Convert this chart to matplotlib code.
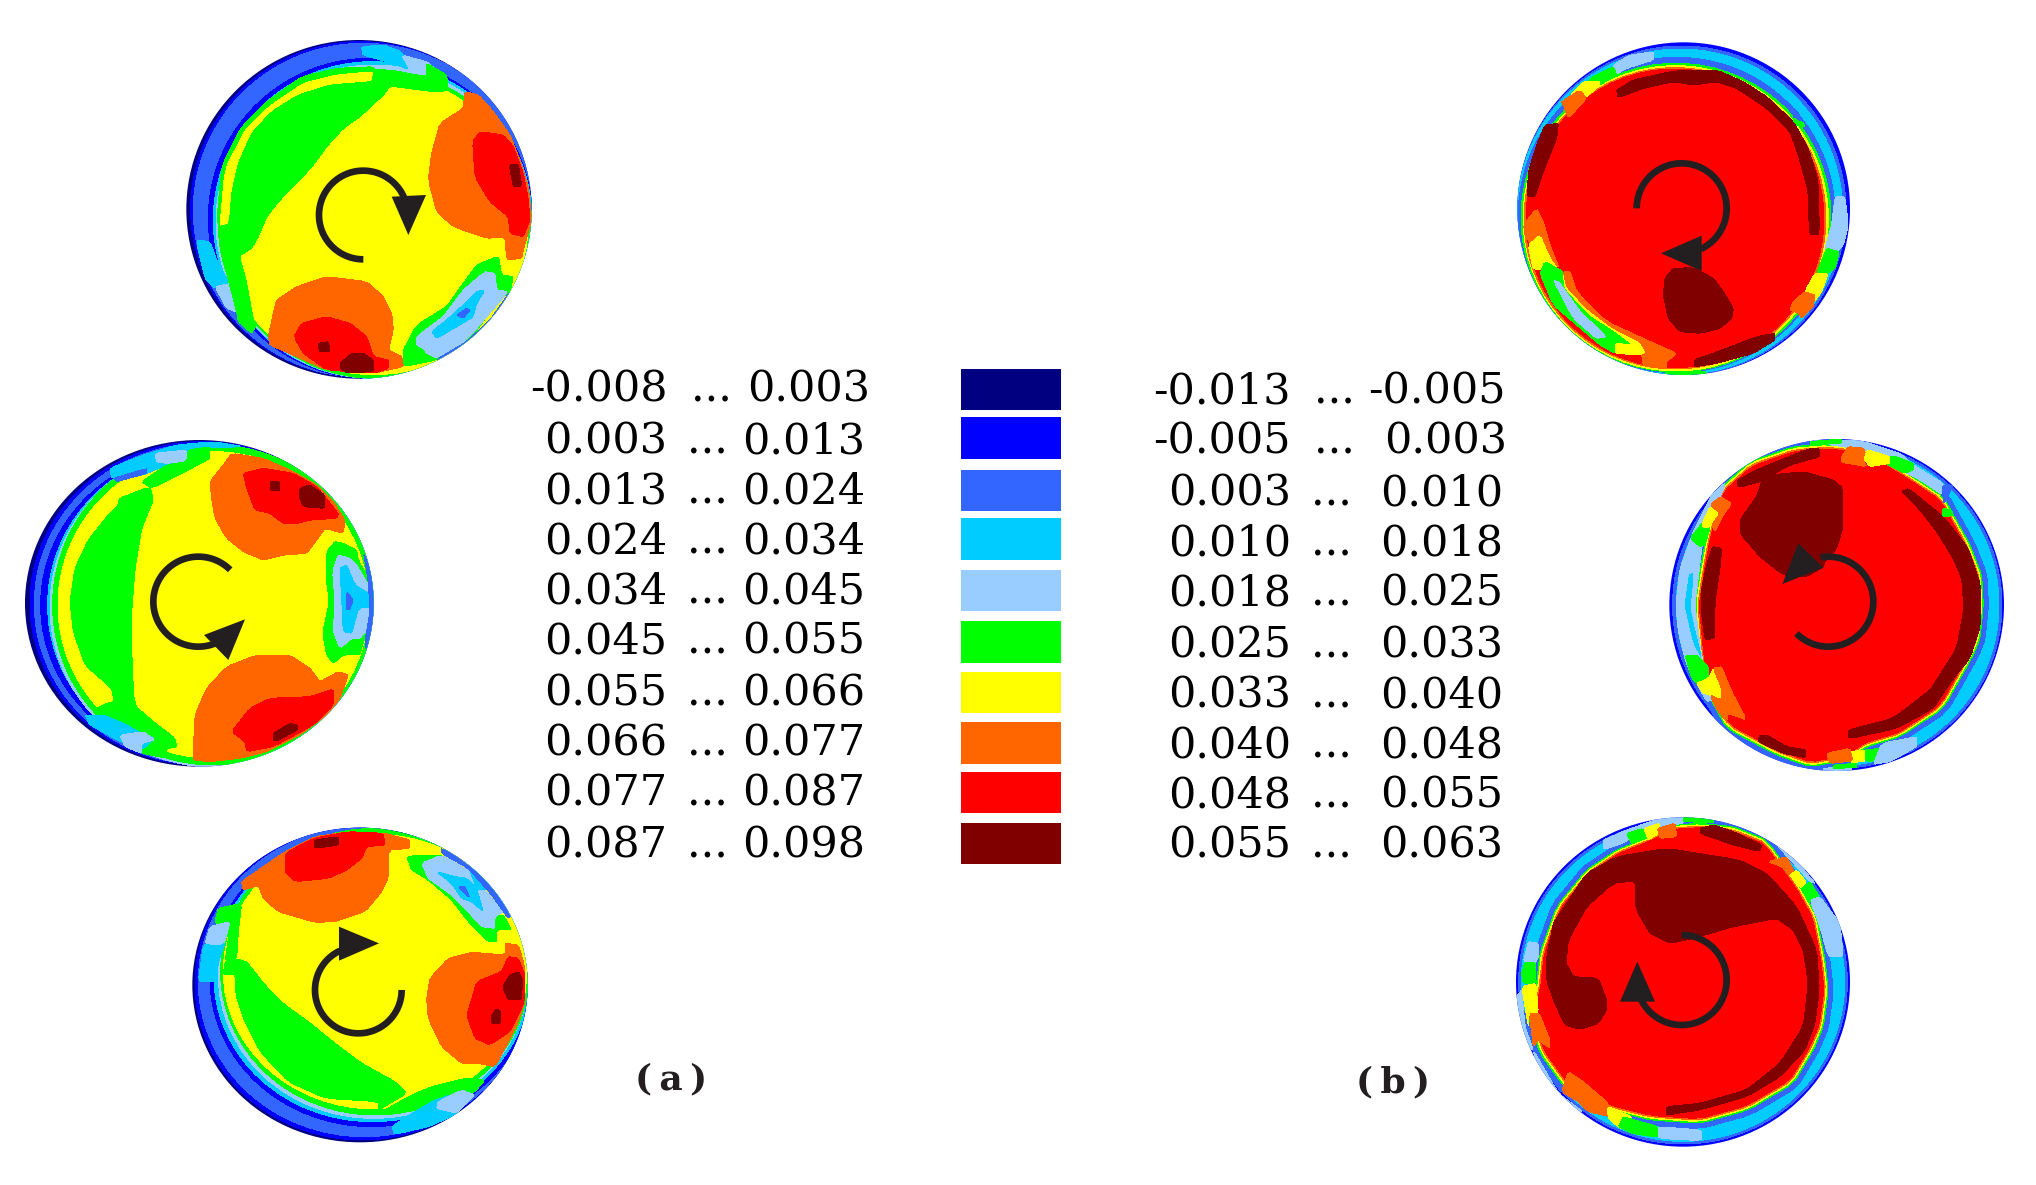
import numpy as np
import matplotlib
matplotlib.use('Agg')
import matplotlib.pyplot as plt
from matplotlib.patches import Ellipse, Polygon, Rectangle

# colour classes of the contour bands, low to high
band_colors = ['#000080', '#0000FF', '#3366FF', '#00CCFF', '#99CCFF',
               '#00FF00', '#FFFF00', '#FF6600', '#FF0000', '#800000']
arrow_color = '#231F20'

# legend values
low_a = ['-0.008', '0.003', '0.013', '0.024', '0.034', '0.045', '0.055', '0.066', '0.077', '0.087']
high_a = ['0.003', '0.013', '0.024', '0.034', '0.045', '0.055', '0.066', '0.077', '0.087', '0.098']
low_b = ['-0.013', '-0.005', '0.003', '0.010', '0.018', '0.025', '0.033', '0.040', '0.048', '0.055']
high_b = ['-0.005', '0.003', '0.010', '0.018', '0.025', '0.033', '0.040', '0.048', '0.055', '0.063']

swatch_top = [369, 417, 470, 518, 570, 621, 672, 722, 772, 823]
swatch_bottom = [410, 459, 511, 560, 611, 663, 713, 764, 813, 864]
row_a = [387, 438, 488, 538, 589, 639, 690, 741, 791, 842]
row_b = [388, 438, 490, 540, 590, 642, 692, 743, 793, 843]

# contour regions, traced from crops at 3x: (band, points)
# rings are (band, cx, cy, rx, ry)
a1_origin = (170, 20)
a1_outer = (567, 568, 518, 508)
a1_rings = [(0, 567, 568, 518, 508), (1, 572, 568, 510, 503), (2, 580, 571, 510, 501),
            (1, 601, 595, 486, 480), (3, 608, 600, 478, 475), (4, 611, 605, 473, 470),
            (5, 615, 612, 470, 463), (6, 612, 612, 462, 452)]
a1_patches = [
    (3, [(575, 80), (640, 75), (695, 95), (722, 150), (650, 125), (578, 105)]),
    (4, [(695, 105), (770, 125), (800, 150), (780, 178), (720, 150)]),
    (3, [(78, 660), (120, 665), (140, 720), (160, 760), (190, 790), (135, 805), (105, 775)]),
    (4, [(135, 800), (185, 790), (222, 840), (222, 885), (170, 865)]),
    (5, [(140, 610), (155, 440), (215, 320), (290, 245), (395, 170), (500, 145), (615, 140), (615, 190),
         (480, 195), (305, 275), (178, 612)]),
    (6, [(150, 615), (165, 450), (225, 330), (300, 258), (400, 190), (500, 165), (608, 155), (608, 186),
         (480, 195), (385, 225), (305, 275), (245, 340), (205, 430), (185, 520), (178, 612)]),
    (5, [(178, 612), (185, 520), (205, 430), (245, 340), (305, 275), (385, 225), (480, 195), (608, 185),
         (610, 155), (660, 150), (770, 170), (770, 130), (830, 165), (835, 212), (790, 215), (660, 198),
         (640, 225), (570, 290), (520, 325), (470, 380), (430, 435), (380, 490), (330, 540), (290, 590),
         (265, 650), (245, 685), (208, 708), (228, 780), (250, 900), (262, 910), (245, 940), (205, 905),
         (200, 875), (175, 780), (150, 680), (148, 620)]),
    (5, [(700, 990), (740, 915), (830, 860), (880, 790), (920, 735), (985, 708), (995, 765), (1030, 770),
         (1020, 815), (985, 840), (900, 960), (800, 1020), (700, 1040)]),
    (4, [(740, 975), (740, 950), (820, 890), (880, 810), (945, 755), (975, 760), (980, 810), (1015, 815),
         (890, 960), (800, 1015), (770, 1000), (760, 985)]),
    (3, [(785, 935), (830, 900), (880, 855), (920, 815), (945, 810), (920, 850), (910, 890), (860, 920),
         (800, 955)]),
    (2, [(860, 885), (890, 865), (900, 870), (880, 895)]),
    (2, [(800, 1018), (890, 965), (960, 900), (1020, 815), (1030, 830), (960, 915), (890, 975), (810, 1030)]),
    (7, [(885, 215), (925, 225), (970, 275), (1020, 345), (1050, 420), (1075, 500), (1085, 600), (1060, 690),
         (1055, 715), (1010, 720), (1005, 650), (950, 655), (850, 620), (800, 575), (775, 480), (785, 400),
         (810, 310), (880, 265)]),
    (8, [(930, 335), (1000, 345), (1030, 380), (1060, 460), (1075, 540), (1080, 600), (1060, 650), (1020, 640),
         (1015, 590), (960, 545), (915, 470), (908, 365)]),
    (9, [(1018, 435), (1045, 432), (1055, 498), (1030, 500)]),
    (7, [(295, 950), (310, 880), (320, 840), (380, 800), (470, 770), (590, 785), (640, 830), (665, 880),
         (670, 930), (655, 990), (695, 1010), (700, 1040), (610, 1060), (470, 1050), (380, 1010), (300, 975)]),
    (8, [(372, 950), (395, 910), (470, 890), (540, 910), (590, 950), (610, 1010), (655, 1020), (655, 1045),
         (610, 1060), (470, 1050), (400, 1000)]),
    (9, [(445, 970), (475, 965), (480, 995), (448, 995)]),
    (9, [(510, 1030), (545, 1000), (580, 1000), (610, 1020), (610, 1055), (530, 1058), (510, 1045)]),
]
a1_arc = (580, 585, 133, 270, 10)
a1_head = [(665, 530), (768, 525), (715, 645)]

a2_origin = (10, 425)
a2_outer = (568, 535, 523, 490)
a2_rings = [(0, 568, 535, 523, 490), (1, 575, 535, 515, 485), (2, 583, 537, 510, 482),
            (1, 595, 540, 503, 470), (3, 605, 540, 492, 472), (4, 610, 545, 490, 481),
            (5, 610, 540, 482, 480), (6, 610, 540, 466, 460)]
a2_patches = [
    (3, [(300, 130), (400, 90), (500, 60), (610, 50), (700, 65), (610, 68), (535, 75), (530, 108), (470, 120),
         (400, 150), (305, 160)]),
    (4, [(435, 85), (530, 75), (530, 108), (470, 115), (440, 110)]),
    (2, [(310, 160), (410, 130), (410, 145), (320, 170)]),
    (5, [(180, 530), (195, 430), (235, 345), (295, 270), (325, 240), (328, 220), (420, 185), (430, 225),
         (395, 310), (375, 430), (362, 600), (372, 840), (430, 890), (495, 940), (500, 965), (470, 972),
         (470, 1000), (395, 985), (340, 930), (260, 850), (290, 835), (312, 830), (305, 790), (225, 720),
         (190, 620)]),
    (5, [(535, 75), (600, 65), (600, 100), (535, 135), (425, 190), (395, 170), (470, 120), (530, 110)]),
    (3, [(225, 870), (280, 870), (340, 895), (395, 925), (435, 940), (395, 975), (330, 950), (240, 900)]),
    (4, [(330, 930), (400, 920), (435, 945), (395, 955), (395, 985), (345, 965)]),
    (5, [(950, 470), (950, 380), (975, 350), (1000, 355), (1040, 375), (1045, 405), (1085, 480), (1085, 600),
         (1060, 650), (1050, 690), (1000, 690), (970, 715), (950, 690), (938, 625), (958, 530)]),
    (4, [(968, 440), (985, 390), (1020, 400), (1040, 420), (1075, 480), (1085, 560), (1075, 610), (1050, 640),
         (1025, 640), (990, 670), (970, 620), (975, 530)]),
    (3, [(990, 430), (1010, 420), (1035, 480), (1085, 510), (1085, 545), (1045, 550), (1025, 625), (1000, 620),
         (995, 520)]),
    (2, [(1010, 500), (1030, 525), (1018, 555), (1010, 555)]),
    (2, [(1060, 380), (1090, 460), (1095, 600), (1070, 680), (1065, 650), (1080, 560), (1075, 470)]),
    (7, [(665, 85), (760, 100), (850, 140), (920, 180), (970, 230), (1005, 285), (1000, 325), (945, 310),
         (920, 345), (890, 385), (820, 390), (760, 405), (700, 380), (650, 340), (615, 280), (605, 220),
         (600, 170), (640, 120)]),
    (8, [(700, 145), (760, 130), (850, 145), (920, 185), (985, 265), (980, 280), (900, 285), (855, 297),
         (820, 295), (780, 265), (735, 255), (710, 190)]),
    (9, [(780, 168), (808, 170), (810, 197), (780, 195)]),
    (9, [(870, 190), (900, 180), (945, 210), (945, 250), (880, 245), (868, 215)]),
    (7, [(550, 975), (555, 870), (590, 790), (650, 725), (740, 690), (840, 690), (900, 730), (930, 770),
         (985, 740), (1015, 750), (990, 820), (950, 870), (870, 930), (770, 980), (690, 1000), (600, 1010),
         (550, 1005)]),
    (8, [(665, 920), (720, 850), (780, 820), (900, 815), (972, 792), (970, 840), (910, 900), (790, 965),
         (710, 980), (705, 950)]),
    (9, [(790, 925), (840, 895), (862, 900), (862, 915), (800, 948), (790, 945)]),
]
a2_arc = (565, 530, 135, 45, 294)
a2_head = [(582, 630), (705, 583), (655, 705)]

a3_origin = (175, 815)
a3_outer = (555, 510, 503, 472)
a3_rings = [(0, 555, 510, 503, 472), (1, 560, 505, 500, 470), (2, 568, 500, 498, 465),
            (1, 590, 490, 485, 445), (3, 592, 485, 475, 435), (4, 595, 480, 465, 430),
            (5, 600, 470, 463, 430), (6, 600, 470, 455, 412)]
a3_patches = [
    (5, [(145, 480), (180, 478), (183, 540), (205, 610), (255, 710), (340, 800), (450, 850), (610, 860),
         (612, 885), (695, 835), (660, 800), (560, 745), (480, 685), (400, 620), (330, 570), (270, 510),
         (215, 440), (185, 432), (150, 440)]),
    (5, [(120, 320), (130, 280), (200, 265), (190, 350), (185, 430), (150, 440), (165, 340), (130, 330)]),
    (3, [(70, 500), (85, 390), (130, 375), (150, 385), (130, 440), (125, 500)]),
    (4, [(90, 385), (105, 335), (165, 320), (150, 380), (130, 390)]),
    (5, [(710, 840), (770, 815), (870, 790), (930, 795), (900, 830), (860, 845), (780, 850), (730, 880), (620, 890)]),
    (3, [(650, 935), (720, 890), (780, 855), (860, 830), (900, 840), (840, 900), (760, 935), (660, 958)]),
    (4, [(785, 880), (790, 860), (860, 825), (900, 840), (845, 895)]),
    (5, [(695, 125), (740, 120), (800, 120), (800, 145), (840, 210), (900, 280), (960, 300), (985, 300),
         (1010, 345), (965, 345), (965, 380), (940, 380), (880, 320), (830, 255), (760, 195), (710, 165)]),
    (4, [(740, 145), (800, 120), (880, 165), (985, 290), (960, 305), (960, 340), (920, 335), (870, 280),
         (830, 240), (760, 190)]),
    (3, [(785, 170), (840, 185), (875, 190), (905, 220), (925, 290), (890, 260), (860, 250), (830, 205)]),
    (3, [(880, 150), (960, 220), (1000, 290), (985, 290), (950, 225), (905, 225)]),
    (2, [(850, 215), (870, 215), (885, 250)]),
    (2, [(800, 100), (880, 140), (960, 220), (1010, 300), (1000, 310), (950, 240), (880, 160), (800, 115)]),
    (7, [(205, 225), (200, 200), (330, 110), (420, 65), (520, 50), (630, 55), (705, 75), (705, 100), (640, 105),
         (640, 190), (620, 230), (570, 290), (480, 320), (420, 322), (310, 290), (265, 250), (250, 212)]),
    (8, [(330, 115), (415, 70), (520, 50), (625, 55), (630, 90), (575, 95), (560, 130), (515, 165), (460, 190),
         (360, 200), (330, 170)]),
    (9, [(418, 75), (490, 65), (492, 90), (420, 100)]),
    (7, [(990, 385), (1030, 390), (1048, 450), (1050, 560), (1030, 620), (1000, 680), (960, 755), (910, 745),
         (860, 745), (800, 695), (760, 610), (755, 550), (765, 490), (820, 430), (890, 412), (990, 420)]),
    (8, [(1000, 425), (1030, 430), (1050, 480), (1048, 560), (1030, 600), (1005, 650), (945, 690), (900, 670),
         (875, 600), (885, 570), (905, 500), (980, 470)]),
    (9, [(1005, 480), (1030, 470), (1042, 490), (1040, 555), (1000, 555), (982, 515)]),
    (9, [(950, 600), (965, 582), (978, 590), (975, 625), (950, 625)]),
]
a3_arc = (550, 525, 130, 360, 115)
a3_head = [(492, 335), (612, 385), (492, 437)]

b1_origin = (1500, 25)
b1_outer = (551, 551, 499, 499)
b1_rings = [(1, 551, 551, 499, 499), (2, 545, 556, 493, 493), (3, 540, 560, 488, 488),
            (2, 530, 570, 475, 473), (5, 528, 578, 465, 463), (6, 527, 580, 458, 458),
            (7, 525, 580, 453, 452), (8, 525, 580, 447, 448)]
b1_patches = [
    (4, [(340, 120), (390, 90), (460, 80), (460, 105), (380, 130), (345, 150)]),
    (5, [(270, 160), (340, 125), (350, 150), (300, 180), (250, 195)]),
    (6, [(210, 210), (250, 170), (300, 170), (300, 180), (255, 220)]),
    (7, [(185, 230), (240, 195), (260, 220), (205, 280), (190, 240)]),
    (7, [(70, 600), (110, 550), (130, 590), (150, 660), (180, 735), (120, 660), (85, 650)]),
    (6, [(85, 660), (120, 630), (150, 700), (175, 735), (100, 735)]),
    (5, [(120, 745), (135, 710), (190, 740), (200, 790), (270, 870), (340, 920), (400, 960), (345, 960),
         (345, 985), (300, 960), (230, 900), (160, 840)]),
    (4, [(160, 765), (178, 772), (240, 860), (320, 935), (290, 940), (220, 880)]),
    (6, [(190, 745), (205, 780), (270, 860), (350, 920), (430, 960), (440, 985), (420, 990), (345, 985),
         (345, 955), (400, 960), (340, 915), (270, 870), (195, 790)]),
    (7, [(190, 740), (210, 740), (230, 800), (320, 890), (440, 945), (530, 985), (500, 1010), (500, 1030),
         (430, 1020), (425, 990), (440, 985), (420, 950), (340, 910), (260, 850), (200, 785)]),
    (5, [(495, 1040), (620, 1040), (620, 1055), (495, 1055)]),
    (4, [(1005, 515), (1035, 515), (1045, 600), (1030, 660), (1000, 690), (975, 670), (995, 600)]),
    (5, [(980, 670), (1018, 680), (1005, 730), (975, 750), (950, 745)]),
    (6, [(945, 745), (985, 745), (965, 800), (935, 840), (915, 810), (920, 790)]),
    (7, [(870, 855), (880, 830), (915, 800), (945, 810), (940, 845), (905, 880), (895, 865)]),
    (2, [(880, 250), (898, 265), (882, 280)]),
    (5, [(880, 282), (908, 292), (915, 305), (882, 300)]),
    (9, [(350, 195), (400, 165), (520, 138), (650, 135), (730, 170), (800, 215), (880, 290), (925, 370),
         (955, 470), (958, 630), (928, 630), (925, 500), (895, 390), (870, 320), (800, 250), (710, 190),
         (650, 170), (580, 180), (520, 170), (430, 190), (355, 218)]),
    (9, [(135, 300), (175, 295), (170, 340), (130, 440), (105, 515), (82, 515), (85, 440), (110, 360)]),
    (9, [(582, 1005), (640, 985), (770, 935), (825, 925), (825, 945), (760, 985), (650, 1015), (585, 1025)]),
    (9, [(520, 730), (580, 728), (640, 760), (670, 800), (700, 850), (695, 880), (660, 910), (600, 925),
         (540, 920), (505, 880), (490, 810), (495, 760)]),
]
b1_arc = (545, 550, 135, 180, -65)
b1_head = [(483, 685), (605, 632), (605, 738)]

b2_origin = (1660, 425)
b2_outer = (530, 540, 502, 498)
b2_rings = [(1, 530, 540, 502, 498), (2, 532, 540, 494, 490), (3, 533, 540, 484, 482)]
b2_outline = [(500, 57), (620, 70), (750, 150), (850, 215), (930, 360), (965, 450), (970, 540), (960, 640),
              (940, 690), (850, 850), (720, 935), (620, 965), (560, 1005), (450, 1025), (350, 990), (200, 910),
              (140, 800), (120, 700), (105, 540), (120, 440), (140, 330), (180, 190), (270, 110), (400, 65)]
b2_patches = [
    (4, [(48, 540), (60, 430), (100, 320), (130, 260), (155, 210), (200, 170), (130, 330), (105, 540),
         (125, 700), (170, 820), (140, 830), (80, 720), (55, 620)]),
    (3, [(75, 540), (88, 450), (100, 445), (90, 550), (105, 620), (125, 700), (100, 650)]),
    (4, [(450, 48), (580, 45), (630, 55), (720, 85), (760, 120), (850, 175), (848, 210), (780, 165), (740, 145),
         (690, 115), (620, 75), (500, 58)]),
    (5, [(450, 50), (545, 42), (545, 55), (450, 60)]),
    (5, [(675, 115), (695, 90), (760, 115), (760, 135), (735, 145)]),
    (6, [(610, 100), (625, 75), (690, 95), (690, 115), (630, 125)]),
    (7, [(545, 95), (565, 65), (615, 70), (610, 105), (620, 125), (545, 112)]),
    (5, [(90, 340), (130, 290), (150, 310), (135, 360), (120, 365)]),
    (6, [(125, 300), (150, 245), (180, 265), (160, 300), (135, 310)]),
    (7, [(150, 240), (180, 215), (215, 235), (190, 270), (165, 320), (155, 300), (180, 265)]),
    (5, [(75, 690), (110, 690), (145, 725), (145, 760), (125, 790), (95, 760)]),
    (6, [(110, 775), (145, 760), (160, 730), (180, 780), (190, 825), (150, 810), (130, 805)]),
    (7, [(150, 810), (185, 825), (185, 790), (160, 730), (185, 725), (215, 800), (260, 885), (205, 865),
         (200, 890), (175, 860)]),
    (4, [(490, 1030), (575, 1025), (575, 1038), (490, 1038)]),
    (5, [(520, 1020), (590, 1015), (590, 1028), (520, 1030)]),
    (5, [(610, 975), (668, 970), (665, 1005), (620, 1010)]),
    (6, [(570, 980), (615, 975), (615, 1010), (570, 1012)]),
    (7, [(500, 985), (570, 970), (578, 1008), (510, 1015)]),
    (4, [(665, 955), (770, 935), (770, 965), (690, 1010), (640, 1018)]),
    (5, [(848, 250), (875, 255), (880, 272), (848, 275)]),
    (2, [(848, 180), (880, 180), (850, 240)]),
    (9, [(725, 200), (745, 190), (850, 275), (925, 370), (962, 480), (962, 600), (930, 700), (880, 760),
         (820, 850), (710, 910), (565, 942), (565, 915), (700, 880), (810, 795), (830, 765), (890, 670),
         (912, 550), (905, 460), (880, 400), (830, 320), (780, 255)]),
    (9, [(232, 165), (300, 130), (450, 70), (480, 72), (480, 95), (390, 120), (300, 170), (235, 188)]),
    (9, [(330, 150), (430, 140), (520, 165), (548, 190), (548, 310), (530, 370), (495, 410), (490, 425),
         (440, 455), (370, 450), (300, 395), (240, 325), (240, 285), (290, 215), (305, 170)]),
    (9, [(158, 365), (185, 370), (180, 430), (165, 530), (165, 640), (135, 645), (125, 570), (125, 490), (140, 420)]),
    (9, [(298, 930), (320, 930), (380, 965), (438, 975), (438, 998), (370, 985), (295, 950)]),
]
b2_arc = (505, 530, 135, 225, 460)
b2_head = [(415, 355), (490, 428), (367, 477)]

b3_origin = (1500, 810)
b3_outer = (549, 516, 501, 494)
b3_rings = [(1, 549, 516, 501, 494), (2, 549, 516, 493, 486), (3, 549, 516, 485, 478)]
b3_outline = [(600, 40), (700, 50), (800, 90), (900, 230), (950, 320), (975, 450), (985, 540), (970, 650),
              (940, 720), (880, 820), (745, 900), (600, 940), (450, 930), (330, 900), (200, 840), (120, 730),
              (85, 620), (108, 540), (120, 430), (170, 290), (260, 180), (350, 120), (450, 80), (520, 45)]
b3_patches = [
    (4, [(480, 25), (550, 22), (550, 40), (480, 50), (400, 60), (380, 95), (310, 120), (310, 90), (380, 60)]),
    (5, [(550, 22), (640, 28), (640, 38), (550, 35)]),
    (5, [(380, 70), (430, 55), (440, 85), (395, 100)]),
    (6, [(432, 55), (480, 40), (475, 70), (445, 90)]),
    (7, [(472, 55), (525, 40), (530, 80), (480, 85)]),
    (4, [(70, 455), (85, 395), (115, 400), (115, 440), (105, 460)]),
    (5, [(65, 490), (75, 458), (108, 458), (108, 520), (70, 520)]),
    (6, [(65, 530), (108, 520), (115, 610), (88, 610), (85, 650)]),
    (7, [(88, 612), (118, 610), (150, 690), (150, 715), (115, 690), (100, 710)]),
    (4, [(50, 560), (65, 540), (75, 650), (100, 720), (90, 720), (60, 640)]),
    (7, [(205, 785), (250, 815), (325, 880), (328, 920), (265, 905), (235, 875), (185, 845)]),
    (6, [(322, 890), (395, 920), (395, 960), (360, 955), (325, 925)]),
    (5, [(370, 920), (475, 950), (475, 982), (395, 970), (355, 950)]),
    (4, [(475, 950), (605, 960), (605, 992), (475, 985)]),
    (4, [(100, 720), (175, 850), (255, 910), (180, 870), (110, 770)]),
    (7, [(805, 155), (860, 140), (885, 190), (870, 195), (845, 170)]),
    (6, [(870, 195), (890, 180), (918, 215), (905, 235)]),
    (5, [(905, 235), (930, 215), (958, 260), (925, 278)]),
    (4, [(930, 270), (960, 260), (1020, 340), (1030, 440), (985, 440), (960, 350)]),
    (4, [(830, 105), (900, 165), (945, 220), (930, 215), (885, 165)]),
    (9, [(140, 510), (140, 440), (160, 340), (180, 310), (260, 190), (350, 140), (500, 115), (720, 150),
         (800, 190), (890, 290), (950, 420), (958, 540), (945, 640), (915, 720), (840, 800), (740, 860),
         (600, 900), (500, 915), (500, 890), (600, 880), (740, 840), (840, 760), (910, 650), (925, 520),
         (910, 420), (880, 360), (830, 325), (700, 350), (580, 385), (510, 400), (450, 370), (415, 310),
         (405, 280), (405, 212), (340, 220), (260, 290), (205, 390), (198, 460), (220, 500), (295, 505),
         (320, 570), (320, 600), (295, 640), (240, 658), (195, 645), (160, 570)]),
    (9, [(600, 55), (640, 45), (700, 65), (785, 105), (780, 125), (700, 105), (600, 70)]),
]
b3_arc = (545, 510, 135, 90, -155)
b3_head = [(412, 455), (465, 575), (360, 575)]


def smooth(points):
    # one pass of corner cutting so traced outlines are not so angular
    pts = np.array(points, dtype=float)
    nxt = np.roll(pts, -1, axis=0)
    return np.column_stack([0.88 * pts + 0.12 * nxt, 0.12 * pts + 0.88 * nxt]).reshape(-1, 2)


def draw_disc(ax, origin, outer, rings, patches, arc, head, outline=None):
    ox, oy = origin

    def px(points):
        pts = np.array(points, dtype=float) / 3
        return pts + [ox, oy]

    clip = Ellipse((ox + outer[0] / 3, oy + outer[1] / 3), 2 * outer[2] / 3, 2 * outer[3] / 3,
                   transform=ax.transData, fc='none', ec='none')
    ax.add_patch(clip)

    for band, cx, cy, rx, ry in rings:
        e = Ellipse((ox + cx / 3, oy + cy / 3), 2 * rx / 3, 2 * ry / 3, fc=band_colors[band], ec='none',
                    antialiased=False)
        ax.add_patch(e)
        e.set_clip_path(clip)

    if outline is not None:
        pts = np.array(outline, dtype=float)
        mid = pts.mean(axis=0)
        for band, k in [(2, 1.035), (5, 1.0), (6, 0.99), (7, 0.98), (8, 0.97)]:
            p = Polygon(px(smooth(mid + (pts - mid) * k)), closed=True, fc=band_colors[band], ec='none',
                        antialiased=False)
            ax.add_patch(p)
            p.set_clip_path(clip)

    for band, points in patches:
        p = Polygon(px(smooth(points)), closed=True, fc=band_colors[band], ec='none', antialiased=False)
        ax.add_patch(p)
        p.set_clip_path(clip)

    cx, cy, r, start, end = arc
    theta = np.radians(np.linspace(start, end, 120))
    curve = px(np.column_stack([cx + r * np.cos(theta), cy - r * np.sin(theta)]))
    ax.plot(curve[:, 0], curve[:, 1], color=arrow_color, lw=4.8, solid_capstyle='butt', zorder=5)
    ax.add_patch(Polygon(px(head), closed=True, fc=arrow_color, ec='none', zorder=6))


fig = plt.figure(figsize=(20.36, 11.85), dpi=100)
ax = fig.add_axes([0, 0, 1, 1])
ax.set_xlim(0, 2036)
ax.set_ylim(1185, 0)
ax.axis('off')

draw_disc(ax, a1_origin, a1_outer, a1_rings, a1_patches, a1_arc, a1_head)
draw_disc(ax, a2_origin, a2_outer, a2_rings, a2_patches, a2_arc, a2_head)
draw_disc(ax, a3_origin, a3_outer, a3_rings, a3_patches, a3_arc, a3_head)
draw_disc(ax, b1_origin, b1_outer, b1_rings, b1_patches, b1_arc, b1_head)
draw_disc(ax, b2_origin, b2_outer, b2_rings, b2_patches, b2_arc, b2_head, b2_outline)
draw_disc(ax, b3_origin, b3_outer, b3_rings, b3_patches, b3_arc, b3_head, b3_outline)

# legend swatches
for i, color in enumerate(band_colors):
    ax.add_patch(Rectangle((961, swatch_top[i]), 100, swatch_bottom[i] - swatch_top[i], fc=color, ec='none'))

# legend text, three pieces per row
legend_font = dict(family='DejaVu Serif', fontsize=31, color='black', va='baseline')
for i in range(10):
    base = row_a[i] + 15
    first = i == 0
    ax.text(530 if first else 544, base, low_a[i], ha='left', **legend_font)
    ax.text(691 if first else 687, base, '...', ha='left', **legend_font)
    ax.text(747 if first else 742, base, high_a[i], ha='left', **legend_font)

    base = row_b[i] + 15
    neg_low = low_b[i].startswith('-')
    ax.text(1153 if neg_low else 1168, base, low_b[i], ha='left', **legend_font)
    ax.text(1314 if neg_low else 1311, base, '...', ha='left', **legend_font)
    x_high = 1368 if i == 0 else (1384 if i == 1 else 1380)
    ax.text(x_high, base, high_b[i], ha='left', **legend_font)

panel_font = dict(family='DejaVu Serif', fontweight='bold', fontsize=26, color='#231F20', ha='center', va='center')
ax.text(671, 1079, '(\u2009a\u2009)', **panel_font)
ax.text(1393, 1082, '(\u2009b\u2009)', **panel_font)

fig.savefig('out.png', dpi=100, facecolor='white')
